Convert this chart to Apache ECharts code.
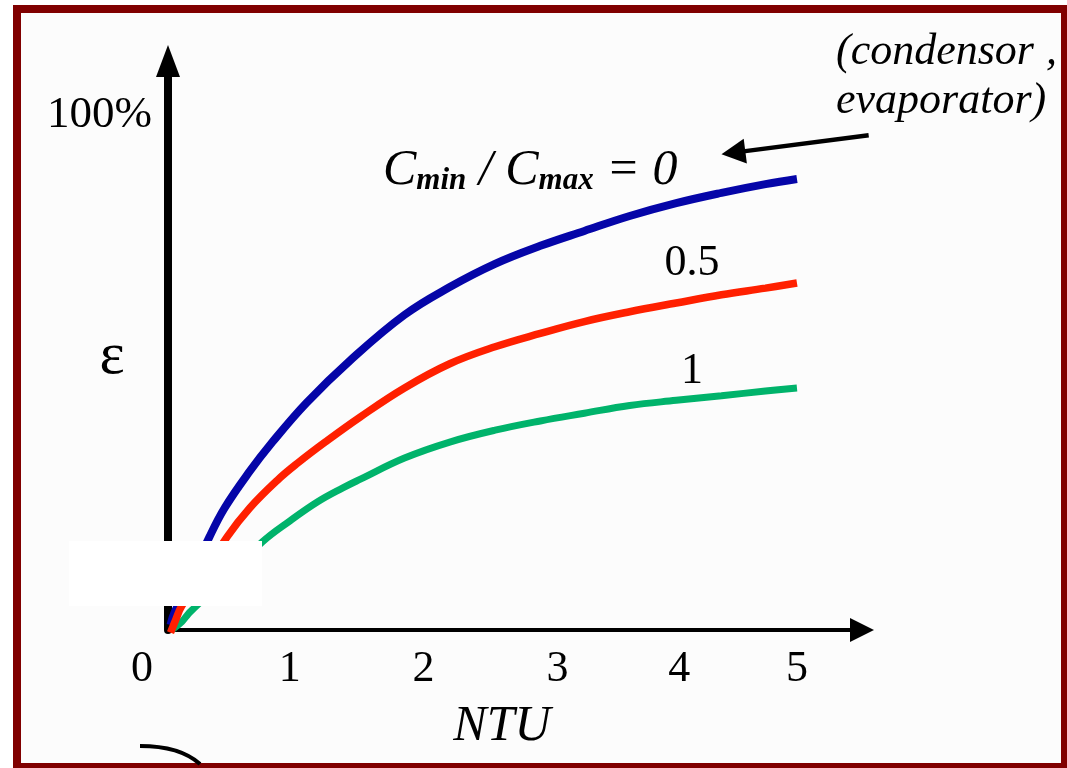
<!DOCTYPE html>
<html><head><meta charset="utf-8">
<script src="https://cdn.jsdelivr.net/npm/echarts@6/dist/echarts.min.js"></script>
<style>html,body{margin:0;padding:0;background:#ffffff;}#c{width:1067px;height:768px;}</style>
</head><body><div id="c"></div>
<script>
// ---- data ----
const xTicks = [0, 1, 2, 3, 4, 5];
const yTickValue = 100;
const yTickText = '100%';
const blueX = [0.02, 0.05, 0.33, 0.45, 0.64, 0.83, 1.10, 1.45, 1.88, 2.24, 2.60, 2.96, 3.31, 3.67, 4.04, 4.40, 4.75, 5.00];
const blueY = [1.0, 3.3, 18.1, 23.7, 30.5, 36.5, 44.1, 52.4, 61.2, 66.6, 71.1, 74.6, 77.5, 80.4, 82.9, 84.9, 86.6, 87.6];
const redX = [0.02, 0.06, 0.11, 0.47, 0.65, 0.87, 1.03, 1.25, 1.53, 1.88, 2.24, 2.60, 2.96, 3.31, 3.67, 4.04, 4.40, 4.75, 5.00];
const redY = [-0.5, 1.9, 4.7, 18.1, 23.7, 29.1, 32.4, 36.5, 41.4, 47.0, 51.7, 55.0, 57.6, 59.9, 61.8, 63.5, 65.1, 66.4, 67.4];
const greenX = [0.03, 0.11, 0.16, 0.21, 0.75, 0.97, 1.19, 1.39, 1.53, 1.88, 2.24, 2.60, 2.96, 3.31, 3.67, 4.04, 4.40, 4.75, 5.00];
const greenY = [0.0, 1.6, 3.1, 4.3, 17.1, 21.2, 24.9, 27.6, 29.3, 33.4, 36.5, 38.8, 40.6, 42.1, 43.6, 44.6, 45.5, 46.4, 47.0];
const curveLabels = ['0.5', '1'];
const noteParts = ['(condensor', ',', 'evaporator)'];
const arrowFrom = [5.57, 96.1];
const arrowTo = [4.40, 92.4];

const pairs = (xs, ys) => xs.map((x, i) => [x, ys[i]]);
const serif = '"Liberation Serif", "Times New Roman", serif';

const chart = echarts.init(document.getElementById('c'), null, {renderer: 'canvas'});

const tickRich = {
  t0: {fontSize: 44, fontFamily: serif, color: '#000', padding: [0, 52, 0, 0]},
  t1: {fontSize: 44, fontFamily: serif, color: '#000', padding: [0, 8, 0, 0]},
  t2: {fontSize: 44, fontFamily: serif, color: '#000', padding: [0, 0, 0, 8]},
  t3: {fontSize: 44, fontFamily: serif, color: '#000', padding: [0, 0, 0, 24]},
  t4: {fontSize: 44, fontFamily: serif, color: '#000', padding: [0, 0, 0, 16]},
  t5: {fontSize: 44, fontFamily: serif, color: '#000'}
};

const lineSeries = (xs, ys, color, width, z) => ({
  type: 'line', data: pairs(xs, ys), smooth: 0.4, showSymbol: false, clip: false,
  lineStyle: {color: color, width: width}, z: z
});

const noteStyle = {fontSize: 44, fontStyle: 'italic', fontFamily: serif, fill: '#000', align: 'left', verticalAlign: 'middle'};

const option = {
  backgroundColor: '#ffffff',
  animation: false,
  grid: {left: 168, top: 61, width: 694, height: 569, containLabel: false, outerBoundsMode: 'none'},
  xAxis: {
    type: 'value', min: 0, max: 5.517, interval: 1,
    axisLine: {show: true, onZero: true, lineStyle: {color: '#000', width: 4},
      symbol: ['none', 'triangle'], symbolSize: [24, 24]},
    axisTick: {show: false}, splitLine: {show: false},
    axisLabel: {
      margin: 17, fontSize: 44, fontFamily: serif, color: '#000',
      formatter: v => xTicks.includes(v) ? '{t' + v + '|' + v + '}' : '',
      rich: tickRich
    },
    name: 'NTU', nameLocation: 'middle', nameGap: 72,
    nameTextStyle: {fontSize: 50, fontStyle: 'italic', fontFamily: serif, color: '#000', padding: [0, 26, 0, 0]}
  },
  yAxis: {
    type: 'value', min: 0, max: 110.5, interval: 100,
    axisLine: {show: true, lineStyle: {color: '#000', width: 8},
      symbol: ['none', 'triangle'], symbolSize: [24, 32]},
    axisTick: {show: false}, splitLine: {show: false},
    axisLabel: {margin: 16, fontSize: 45, fontFamily: serif, color: '#000',
      formatter: v => v === yTickValue ? yTickText : ''}
  },
  series: [
    lineSeries(blueX, blueY, '#0505a8', 8, 3),
    lineSeries(greenX, greenY, '#00b36b', 7, 3),
    lineSeries(redX, redY, '#ff2000', 7.5, 4)
  ],
  graphic: [
    {type: 'rect', id: 'frame', z: -100, silent: true,
      shape: {x: 17, y: 9, width: 1048, height: 758},
      style: {fill: '#fcfcfc', stroke: '#800000', lineWidth: 8}},
    {type: 'rect', id: 'whitebox', z: 100, silent: true,
      shape: {x: 69, y: 541, width: 193, height: 65},
      style: {fill: '#ffffff'}},
    {type: 'bezierCurve', id: 'stroke', z: 10, silent: true,
      shape: {x1: 140, y1: 746, cpx1: 180, cpy1: 746, x2: 200, y2: 764},
      style: {stroke: '#000', lineWidth: 4, fill: null}},
    {type: 'text', id: 'eps', z: 10, x: 112, y: 357,
      style: {text: 'ε', fontSize: 60, fontFamily: serif, fill: '#000', align: 'center', verticalAlign: 'middle'}},
    {type: 'text', id: 'cr0', z: 10, x: 383, y: 146,
      style: {
        text: '{m|C}{s|min}{m| / C}{s|max}{m| = 0}',
        fill: '#000', verticalAlign: 'top', align: 'left',
        rich: {
          m: {fontSize: 50, lineHeight: 50, fontStyle: 'italic', fontFamily: serif, fill: '#000'},
          s: {fontSize: 31, lineHeight: 12, fontStyle: 'italic', fontWeight: 'bold', fontFamily: serif, fill: '#000', verticalAlign: 'bottom'}
        }
      }},
    {type: 'text', id: 'lbl05', z: 10, x: 692, y: 263,
      style: {text: curveLabels[0], fontSize: 44, fontFamily: serif, fill: '#000', align: 'center', verticalAlign: 'middle'}},
    {type: 'text', id: 'lbl1', z: 10, x: 692, y: 371,
      style: {text: curveLabels[1], fontSize: 44, fontFamily: serif, fill: '#000', align: 'center', verticalAlign: 'middle'}},
    {type: 'text', id: 'cond1', z: 10, x: 836, y: 52, style: Object.assign({}, noteStyle, {text: noteParts[0]})},
    {type: 'text', id: 'cond1c', z: 10, x: 1046, y: 52, style: Object.assign({}, noteStyle, {text: noteParts[1]})},
    {type: 'text', id: 'cond2', z: 10, x: 836, y: 101, style: Object.assign({}, noteStyle, {text: noteParts[2]})}
  ]
};
chart.setOption(option);

// annotation arrow positioned from data coordinates
const p1 = chart.convertToPixel({gridIndex: 0}, arrowFrom);
const p2 = chart.convertToPixel({gridIndex: 0}, arrowTo);
const dx = p2[0] - p1[0], dy = p2[1] - p1[1];
const len = Math.hypot(dx, dy);
const ux = dx / len, uy = dy / len, nx = -uy, ny = ux;
const headL = 24, headW = 12.5;
const bx = p2[0] - ux * headL, by = p2[1] - uy * headL;
chart.setOption({
  graphic: [
    {type: 'line', id: 'arrLine', z: 10, silent: true,
      shape: {x1: p1[0], y1: p1[1], x2: bx + ux * 2, y2: by + uy * 2},
      style: {stroke: '#000', lineWidth: 4.5}},
    {type: 'polygon', id: 'arrHead', z: 10, silent: true,
      shape: {points: [[p2[0], p2[1]], [bx + nx * headW, by + ny * headW], [bx - nx * headW, by - ny * headW]]},
      style: {fill: '#000'}}
  ]
});
</script>
</body></html>
